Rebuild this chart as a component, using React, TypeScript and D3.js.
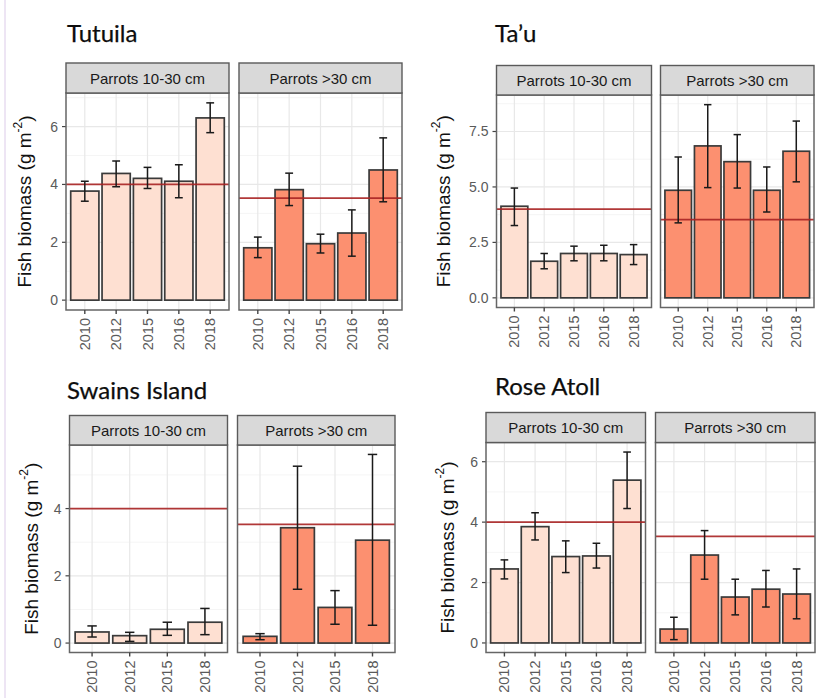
import React from "react";
import * as d3 from "d3";

// ---------- data ----------
const sizeClasses = ["Parrots 10-30 cm", "Parrots >30 cm"];
const islandNames = ["Tutuila", "Ta\u2019u", "Swains Island", "Rose Atoll"];

const years5 = ["2010", "2012", "2015", "2016", "2018"];
const years4 = ["2010", "2012", "2015", "2018"];

const tutuilaSmallMean = [3.77, 4.38, 4.21, 4.11, 6.3];
const tutuilaSmallLo = [3.42, 3.92, 3.86, 3.54, 5.79];
const tutuilaSmallHi = [4.11, 4.81, 4.59, 4.68, 6.82];
const tutuilaLargeMean = [1.81, 3.82, 1.95, 2.32, 4.5];
const tutuilaLargeLo = [1.47, 3.27, 1.63, 1.52, 3.4];
const tutuilaLargeHi = [2.18, 4.39, 2.28, 3.12, 5.61];

const tauSmallMean = [4.13, 1.65, 2.0, 2.0, 1.95];
const tauSmallLo = [3.26, 1.31, 1.67, 1.67, 1.5];
const tauSmallHi = [4.95, 2.0, 2.33, 2.37, 2.4];
const tauLargeMean = [4.85, 6.85, 6.14, 4.85, 6.61];
const tauLargeLo = [3.38, 4.97, 4.95, 3.87, 5.23];
const tauLargeHi = [6.35, 8.71, 7.36, 5.9, 7.97];

const swainsSmallMean = [0.33, 0.22, 0.41, 0.62];
const swainsSmallLo = [0.18, 0.05, 0.23, 0.25];
const swainsSmallHi = [0.51, 0.32, 0.62, 1.03];
const swainsLargeMean = [0.2, 3.43, 1.06, 3.06];
const swainsLargeLo = [0.1, 1.6, 0.56, 0.53];
const swainsLargeHi = [0.28, 5.26, 1.56, 5.61];

const roseSmallMean = [2.45, 3.85, 2.86, 2.88, 5.39];
const roseSmallLo = [2.12, 3.41, 2.33, 2.48, 4.45];
const roseSmallHi = [2.75, 4.31, 3.38, 3.3, 6.32];
const roseLargeMean = [0.46, 2.91, 1.52, 1.78, 1.62];
const roseLargeLo = [0.11, 2.11, 0.93, 1.19, 0.8];
const roseLargeHi = [0.85, 3.72, 2.11, 2.4, 2.45];

const referenceLevels = [4.0, 3.53];

const tutuilaTicks = [0, 2, 4, 6];
const tauTicks = [0, 2.5, 5, 7.5];
const swainsTicks = [0, 2, 4];
const roseTicks = [0, 2, 4, 6];

const yAxisTitle = "Fish biomass (g m";

// ---------- styles ----------
const fills = ["#fee0d2", "#fc9070"];
const refColor = "#a82222";
const ink = "#3a3a3a";

type Series = { mean: number[]; lo: number[]; hi: number[] };
type Island = {
  name: string;
  years: string[];
  series: Series[];
  ticks: number[];
  tickFmt: (v: number) => string;
  layout: {
    titleX: number;
    titleY: number;
    stripTop: number;
    panelTop: number;
    panelBottom: number;
    panels: [number, number][];
    yTitleX: number;
  };
};

const islands: Island[] = [
  {
    name: islandNames[0],
    years: years5,
    series: [
      { mean: tutuilaSmallMean, lo: tutuilaSmallLo, hi: tutuilaSmallHi },
      { mean: tutuilaLargeMean, lo: tutuilaLargeLo, hi: tutuilaLargeHi },
    ],
    ticks: tutuilaTicks,
    tickFmt: d3.format("d"),
    layout: {
      titleX: 67, titleY: 42, stripTop: 63, panelTop: 93, panelBottom: 310,
      panels: [[66, 229], [239, 402]], yTitleX: 24.5,
    },
  },
  {
    name: islandNames[1],
    years: years5,
    series: [
      { mean: tauSmallMean, lo: tauSmallLo, hi: tauSmallHi },
      { mean: tauLargeMean, lo: tauLargeLo, hi: tauLargeHi },
    ],
    ticks: tauTicks,
    tickFmt: d3.format(".1f"),
    layout: {
      titleX: 495, titleY: 42, stripTop: 65.5, panelTop: 95, panelBottom: 307.5,
      panels: [[496.5, 651.5], [660.5, 814]], yTitleX: 443,
    },
  },
  {
    name: islandNames[2],
    years: years4,
    series: [
      { mean: swainsSmallMean, lo: swainsSmallLo, hi: swainsSmallHi },
      { mean: swainsLargeMean, lo: swainsLargeLo, hi: swainsLargeHi },
    ],
    ticks: swainsTicks,
    tickFmt: d3.format("d"),
    layout: {
      titleX: 67, titleY: 399, stripTop: 415.5, panelTop: 445, panelBottom: 652.5,
      panels: [[69.5, 227.5], [237.5, 395]], yTitleX: 31,
    },
  },
  {
    name: islandNames[3],
    years: years5,
    series: [
      { mean: roseSmallMean, lo: roseSmallLo, hi: roseSmallHi },
      { mean: roseLargeMean, lo: roseLargeLo, hi: roseLargeHi },
    ],
    ticks: roseTicks,
    tickFmt: d3.format("d"),
    layout: {
      titleX: 495, titleY: 395, stripTop: 412.5, panelTop: 442.5, panelBottom: 652.5,
      panels: [[486, 645.5], [655.5, 815]], yTitleX: 447,
    },
  },
];

function IslandPlot({ isl }: { isl: Island }) {
  const L = isl.layout;
  const maxHi = d3.max(isl.series.flatMap((s) => s.hi)) as number;
  const pad = maxHi * 0.05;
  const y = d3.scaleLinear().domain([-pad, maxHi + pad]).range([L.panelBottom, L.panelTop]);
  const step = isl.ticks[1] - isl.ticks[0];
  const minor: number[] = [];
  for (let v = isl.ticks[0] + step / 2; v <= maxHi + pad; v += step) minor.push(v);
  const midY = (L.panelTop + L.panelBottom) / 2;

  return (
    <g>
      <text x={L.titleX} y={L.titleY} fontFamily="Lato, 'Open Sans', sans-serif" fontSize={24} fill="#0d0d0d" stroke="#0d0d0d" strokeWidth={0.25}>
        {isl.name}
      </text>
      <text
        transform={`translate(${L.yTitleX},${midY}) rotate(-90)`}
        textAnchor="middle"
        dominantBaseline="central"
        fontFamily="'Liberation Sans', Arial, sans-serif"
        fontSize={19}
        fill="#111"
      >
        {yAxisTitle}
        <tspan dy={-7} fontSize={12}>-2</tspan>
        <tspan dy={7}>)</tspan>
      </text>
      {/* y axis ticks & labels */}
      {isl.ticks.map((t) => (
        <g key={t}>
          <line x1={L.panels[0][0] - 4} x2={L.panels[0][0]} y1={y(t)} y2={y(t)} stroke="#444" strokeWidth={1.2} />
          <text
            x={L.panels[0][0] - 8}
            y={y(t)}
            textAnchor="end"
            dominantBaseline="central"
            fontFamily="'Liberation Sans', Arial, sans-serif"
            fontSize={14}
            fill="#5a5a5a"
          >
            {isl.tickFmt(t)}
          </text>
        </g>
      ))}
      {isl.series.map((s, pi) => {
        const [px0, px1] = L.panels[pi];
        const x = d3.scalePoint<string>().domain(isl.years).range([px0, px1]).padding(0.6);
        const st = x.step();
        const bw = st * 0.9;
        const cw = st * 0.25;
        return (
          <g key={pi}>
            <rect x={px0} y={L.panelTop} width={px1 - px0} height={L.panelBottom - L.panelTop} fill="#fff" />
            {minor.map((v) => (
              <line key={"m" + v} x1={px0} x2={px1} y1={y(v)} y2={y(v)} stroke="#f2f2f2" strokeWidth={0.8} />
            ))}
            {isl.ticks.map((v) => (
              <line key={"g" + v} x1={px0} x2={px1} y1={y(v)} y2={y(v)} stroke="#e8e8e8" strokeWidth={1.2} />
            ))}
            {isl.years.map((yr) => (
              <line key={"v" + yr} x1={x(yr)} x2={x(yr)} y1={L.panelTop} y2={L.panelBottom} stroke="#e8e8e8" strokeWidth={1.2} />
            ))}
            {isl.years.map((yr, i) => (
              <rect
                key={"b" + yr}
                x={(x(yr) as number) - bw / 2}
                y={y(s.mean[i])}
                width={bw}
                height={y(0) - y(s.mean[i])}
                fill={fills[pi]}
                stroke={ink}
                strokeWidth={1.7}
              />
            ))}
            <line x1={px0} x2={px1} y1={y(referenceLevels[pi])} y2={y(referenceLevels[pi])} stroke={refColor} strokeWidth={1.8} strokeOpacity={0.9} />
            {isl.years.map((yr, i) => {
              const cx = x(yr) as number;
              return (
                <g key={"e" + yr} stroke="#1a1a1a" strokeWidth={1.5}>
                  <line x1={cx} x2={cx} y1={y(s.hi[i])} y2={y(s.lo[i])} />
                  <line x1={cx - cw / 2} x2={cx + cw / 2} y1={y(s.hi[i])} y2={y(s.hi[i])} />
                  <line x1={cx - cw / 2} x2={cx + cw / 2} y1={y(s.lo[i])} y2={y(s.lo[i])} />
                </g>
              );
            })}
            <rect x={px0} y={L.panelTop} width={px1 - px0} height={L.panelBottom - L.panelTop} fill="none" stroke="#666" strokeWidth={1.5} />
            {/* strip */}
            <rect x={px0} y={L.stripTop} width={px1 - px0} height={L.panelTop - L.stripTop} fill="#d9d9d9" stroke="#5a5a5a" strokeWidth={1.4} />
            <text
              x={(px0 + px1) / 2}
              y={(L.stripTop + L.panelTop) / 2}
              textAnchor="middle"
              dominantBaseline="central"
              fontFamily="'Liberation Sans', Arial, sans-serif"
              fontSize={15}
              fill="#1a1a1a"
            >
              {sizeClasses[pi]}
            </text>
            {/* x ticks */}
            {isl.years.map((yr) => {
              const cx = x(yr) as number;
              return (
                <g key={"t" + yr}>
                  <line x1={cx} x2={cx} y1={L.panelBottom} y2={L.panelBottom + 4} stroke="#444" strokeWidth={1.4} />
                  <text
                    transform={`translate(${cx},${L.panelBottom + 8}) rotate(-90)`}
                    textAnchor="end"
                    dominantBaseline="central"
                    fontFamily="'Liberation Sans', Arial, sans-serif"
                    fontSize={14.5}
                    fill="#5a5a5a"
                  >
                    {yr}
                  </text>
                </g>
              );
            })}
          </g>
        );
      })}
    </g>
  );
}

export default function App() {
  return (
    <svg
      width={816}
      height={698}
      viewBox="0 0 816 698"
      style={{ position: "absolute", left: 0, top: 0, background: "#fff" }}
    >
      <rect x={0} y={0} width={816} height={698} fill="#fff" />
      <line x1={5} x2={5} y1={0} y2={698} stroke="#dccbe9" strokeWidth={1} />
      {islands.map((isl) => (
        <IslandPlot key={isl.name} isl={isl} />
      ))}
    </svg>
  );
}
